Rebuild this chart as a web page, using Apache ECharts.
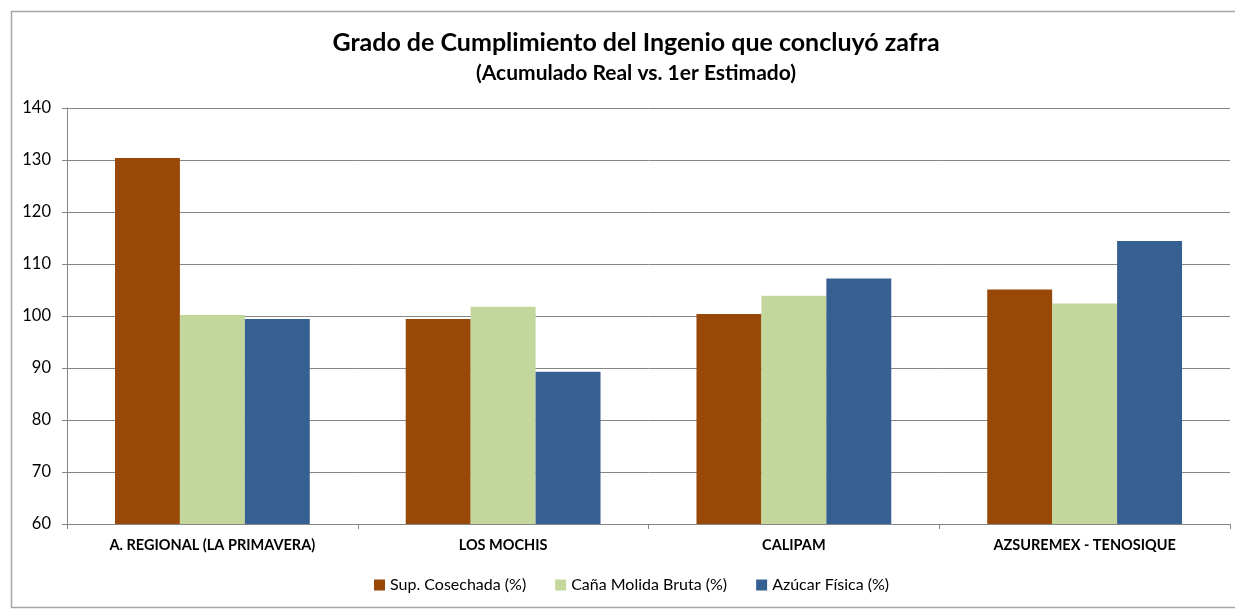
<!DOCTYPE html>
<html><head><meta charset="utf-8">
<script src="https://cdn.jsdelivr.net/npm/echarts@6/dist/echarts.min.js"></script>
<style>html,body{margin:0;padding:0;background:#fff}#c{width:1235px;height:612px}</style>
</head><body><div id="c"></div>
<script>
const categories = ["A. REGIONAL (LA PRIMAVERA)", "LOS MOCHIS", "CALIPAM", "AZSUREMEX - TENOSIQUE"];
const seriesNames = ["Sup. Cosechada (%)", "Caña Molida Bruta (%)", "Azúcar Física (%)"];
const supCosechada = [130.4, 99.4, 100.4, 105.1];
const canaMolida = [100.2, 101.8, 103.9, 102.4];
const azucarFisica = [99.4, 89.3, 107.2, 114.4];
const colors = ["#984807", "#C3D69B", "#376092"];
const FONT = "Lato";

const chart = echarts.init(document.getElementById('c'));
chart.setOption({
  animation: false,
  textStyle: { fontFamily: FONT },
  graphic: [{
    type: 'rect', shape: { x: 11.5, y: 11.5, width: 1240, height: 596 },
    style: { fill: 'none', stroke: '#a6a6a6', lineWidth: 1.5 }, z: -10
  }],
  title: {
    text: "Grado de Cumplimiento del Ingenio que concluyó zafra",
    subtext: "(Acumulado Real vs. 1er Estimado)",
    left: 631, top: 25, textAlign: 'center', itemGap: 8,
    textStyle: { fontFamily: FONT, fontSize: 25, fontWeight: 'bold', color: '#000' },
    subtextStyle: { fontFamily: FONT, fontSize: 21, fontWeight: 'bold', color: '#000' }
  },
  legend: {
    data: seriesNames, left: 369, top: 572, itemWidth: 11, itemHeight: 11,
    itemGap: 29, icon: 'rect',
    textStyle: { fontFamily: FONT, fontSize: 16, color: '#000' }
  },
  grid: { left: 67, right: 5, top: 108, bottom: 88, containLabel: false },
  xAxis: {
    type: 'category', data: categories,
    axisLine: { lineStyle: { color: '#868686', width: 1 } },
    axisTick: { show: true, length: 5, lineStyle: { color: '#868686' } },
    axisLabel: { fontFamily: FONT, fontSize: 14.5, fontWeight: 'bold', color: '#000', margin: 14 }
  },
  yAxis: {
    type: 'value', min: 60, max: 140, interval: 10,
    axisLine: { show: true, lineStyle: { color: '#868686' } },
    axisTick: { show: true, length: 5, lineStyle: { color: '#868686' } },
    splitLine: { lineStyle: { color: '#868686', width: 1 } },
    axisLabel: { fontFamily: FONT, fontSize: 16.5, color: '#000', margin: 16 }
  },
  series: [
    { name: seriesNames[0], type: 'bar', data: supCosechada, itemStyle: { color: colors[0] }, barGap: '0%', barCategoryGap: '33%' },
    { name: seriesNames[1], type: 'bar', data: canaMolida, itemStyle: { color: colors[1] }, barGap: '0%', barCategoryGap: '33%' },
    { name: seriesNames[2], type: 'bar', data: azucarFisica, itemStyle: { color: colors[2] }, barGap: '0%', barCategoryGap: '33%' }
  ]
});
</script></body></html>
